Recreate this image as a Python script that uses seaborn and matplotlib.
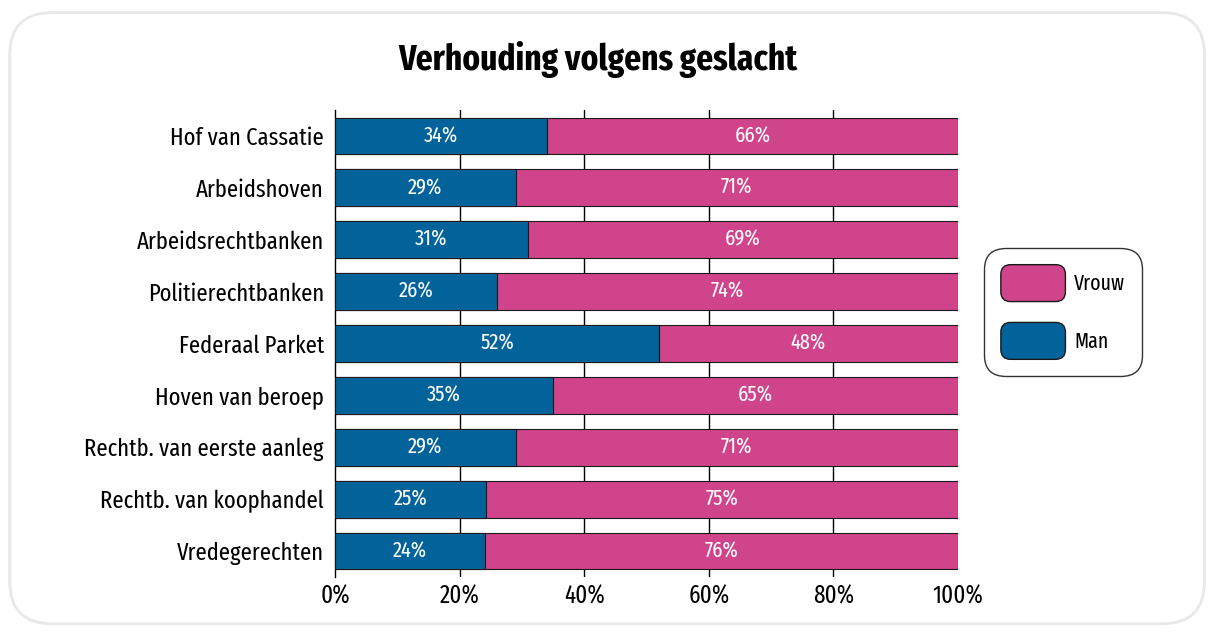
import matplotlib
matplotlib.use("Agg")
import matplotlib.pyplot as plt
from matplotlib import font_manager as fm
import seaborn as sns
import pandas as pd
from matplotlib.patches import FancyBboxPatch, Patch
from matplotlib.legend_handler import HandlerPatch

categories = ["Hof van Cassatie", "Arbeidshoven", "Arbeidsrechtbanken", "Politierechtbanken",
              "Federaal Parket", "Hoven van beroep", "Rechtb. van eerste aanleg",
              "Rechtb. van koophandel", "Vredegerechten"]
# bar lengths
man_share = [34.1, 29, 31, 26, 52, 35, 29, 24.2, 24]
vrouw_share = [65.9, 71, 69, 74, 48, 65, 71, 75.8, 76]
# printed labels
man_labels = ["34%", "29%", "31%", "26%", "52%", "35%", "29%", "25%", "24%"]
vrouw_labels = ["66%", "71%", "69%", "74%", "48%", "65%", "71%", "75%", "76%"]
xticks = [0, 20, 40, 60, 80, 100]
xticklabels = ["0%", "20%", "40%", "60%", "80%", "100%"]

BLUE = "#02639b"
PINK = "#d0448b"

sns.set_theme(style="white")

available = {f.name for f in fm.fontManager.ttflist}
candidates = ["Fira Sans Extra Condensed", "Fira Sans Condensed", "PT Sans Narrow",
              "Roboto Condensed", "Open Sans Condensed", "Archivo Narrow",
              "Liberation Sans Narrow", "Encode Sans Condensed", "Barlow Semi Condensed"]
main = next((c for c in candidates if c in available), None)
FONT = ([main] if main else []) + ["DejaVu Sans"]
STRETCH = "normal" if main else "condensed"
plt.rcParams["font.family"] = FONT
plt.rcParams["font.stretch"] = STRETCH
plt.rcParams["text.color"] = "black"
plt.rcParams["xtick.color"] = "black"
plt.rcParams["ytick.color"] = "black"

df = pd.DataFrame({"cat": categories, "man": man_share, "vrouw": vrouw_share})
df["total"] = df["man"] + df["vrouw"]

fig = plt.figure(figsize=(12.13, 6.32), dpi=100)
frame = FancyBboxPatch((0.008, 0.013), 0.985, 0.967,
                       boxstyle="round,pad=0,rounding_size=0.035",
                       transform=fig.transFigure, facecolor="white",
                       edgecolor="#e8e8e8", linewidth=2, mutation_aspect=1.92, zorder=-10)
fig.patches.append(frame)

ax = fig.add_axes([335/1213, 1-577/632, (958-335)/1213, (577-110)/632])
ax.set_facecolor("none")

sns.barplot(data=df, x="total", y="cat", orient="h", color=PINK, width=0.71,
            edgecolor="#1a1a1a", linewidth=0.8, ax=ax, saturation=1, zorder=3)
sns.barplot(data=df, x="man", y="cat", orient="h", color=BLUE, width=0.71,
            edgecolor="#1a1a1a", linewidth=0.8, ax=ax, saturation=1, zorder=4)

for i, (m, v) in enumerate(zip(man_share, vrouw_share)):
    ax.text(m / 2, i, man_labels[i], color="white", ha="center", va="center", fontsize=16, zorder=5)
    ax.text(m + v / 2, i, vrouw_labels[i], color="white", ha="center", va="center", fontsize=16, zorder=5)

ax.set_xlim(0, 100)
ax.set_ylim(len(categories) - 0.5, -0.5)
ax.set_xticks(xticks)
ax.set_xticklabels(xticklabels, fontsize=18)
ax.tick_params(axis="y", labelsize=17.7, length=0, pad=8)
ax.tick_params(axis="x", length=0, pad=5)
ax.set_xlabel("")
ax.set_ylabel("")
for x in xticks[1:-1]:
    ax.axvline(x, color="black", linewidth=1, zorder=1)
for s in ["top", "right", "bottom"]:
    ax.spines[s].set_visible(False)
ax.spines["left"].set_color("black")
ax.spines["left"].set_linewidth(1)
ax.grid(False)

fig.text(598/1213, 1-60/632, "Verhouding volgens geslacht", ha="center", va="center",
         fontsize=26, fontweight="bold", family=FONT, stretch=STRETCH)


class RoundHandler(HandlerPatch):
    def create_artists(self, legend, orig_handle, xdescent, ydescent, width, height, fontsize, trans):
        p = FancyBboxPatch((-xdescent, -ydescent), width, height,
                           boxstyle="round,pad=0,rounding_size=7",
                           facecolor=orig_handle.get_facecolor(), edgecolor="#1a1a1a", linewidth=1)
        p.set_transform(trans)
        return [p]


handles = [Patch(facecolor=PINK, label="Vrouw"), Patch(facecolor=BLUE, label="Man")]
leg = fig.legend(handles=handles, loc="center", bbox_to_anchor=(1063/1213, 1-312/632),
                 handler_map={Patch: RoundHandler()}, frameon=True, fancybox=True,
                 fontsize=15.5, handlelength=3.0, handleheight=2.26, labelspacing=0.97,
                 handletextpad=0.4, borderpad=0.78, edgecolor="black")
leg.get_frame().set_linewidth(1)
leg.get_frame().set_boxstyle("round,pad=0,rounding_size=1.0")

fig.savefig("out.png", dpi=100)
